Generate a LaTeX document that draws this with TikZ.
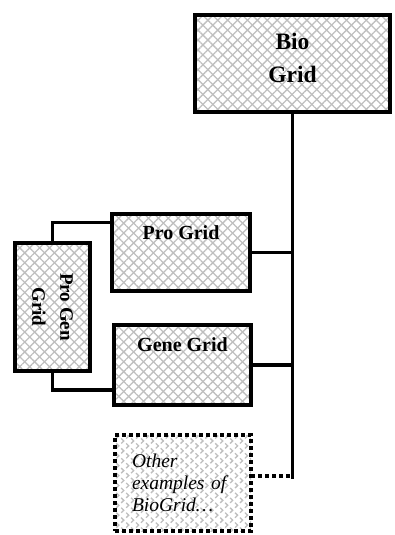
\documentclass[tikz,border=0pt]{standalone}
\usepackage{fontspec}
\setmainfont{Liberation Serif}
\usetikzlibrary{patterns.meta}

\begin{document}
\begin{tikzpicture}[x=1pt,y=-1pt,
  hatch/.style={
    preaction={pattern={Lines[angle=45,distance=7pt,line width=1.3pt]},pattern color=gray!50},
    preaction={pattern={Lines[angle=-45,distance=7pt,line width=1.3pt]},pattern color=gray!50}},
  gbox/.style={hatch,draw,line width=4pt,inner sep=0pt,outer sep=0pt},
  dbox/.style={gbox,dash pattern=on 4pt off 3pt,inner xsep=17pt,
    text width=102pt,align=left,font=\itshape\fontsize{19.5}{22}\selectfont},
  tl/.style={font=\bfseries\fontsize{20}{24}\selectfont,inner sep=0pt,anchor=north,align=center},
  ln/.style={line width=3.2pt},
  dln/.style={ln,dash pattern=on 4pt off 3pt}
]
  \useasboundingbox (0,0) rectangle (394,535);
  \node[gbox,minimum width=195pt,minimum height=97pt,
    label={[tl,font=\bfseries\fontsize{23.5}{33}\selectfont,yshift=-18pt]north:Bio\\Grid}] (bio) at (292.5,63.5) {};
  \node[gbox,minimum width=138pt,minimum height=77pt,
    label={[tl,yshift=-11pt]north:Pro Grid}] (pro) at (181,252.5) {};
  \node[gbox,minimum width=137pt,minimum height=80pt,
    label={[tl,yshift=-12pt]north:Gene Grid}] (gene) at (182.5,365) {};
  \node[gbox,minimum width=75pt,minimum height=128pt,
    label={[tl,anchor=center,rotate=-90,font=\bfseries\fontsize{19}{28}\selectfont]center:Pro Gen\\Grid}] (progen) at (52.5,307) {};
  \node[dbox,minimum width=136pt,minimum height=96pt] (other) at (183,483)
    {Other\\examples of\\BioGrid\dots};
  \coordinate (bot) at (292.5,479);
  % trunk and branches
  \draw[ln] (bio.south) -- (bot);
  \foreach \b in {pro,gene}
    {\draw[ln] (\b.east) -- (\b.east -| bot);}
  \draw[dln] ([yshift=7pt]other.east) -- ([yshift=7pt]other.east -| bot);
  \draw[ln] (progen.north) |- ([yshift=30pt]pro.west);
  \draw[ln] (progen.south) |- ([yshift=-25pt]gene.west);
\end{tikzpicture}
\end{document}
